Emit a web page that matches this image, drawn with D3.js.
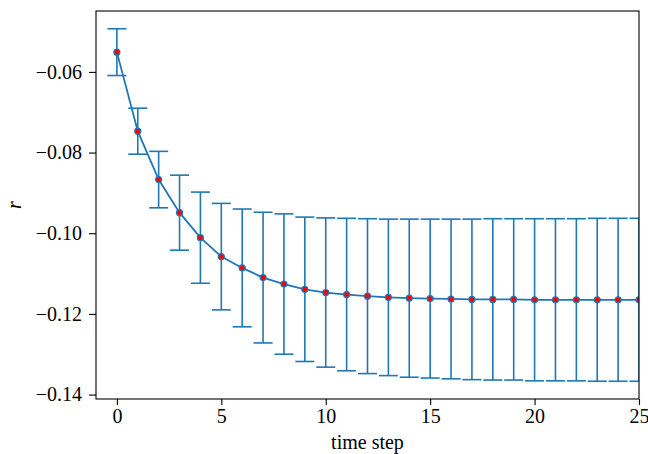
<!DOCTYPE html>
<html>
<head>
<meta charset="utf-8">
<script src="https://cdn.jsdelivr.net/npm/d3@7"></script>
<style>
  body { margin: 0; background: #fff; }
  text { font-family: "Liberation Serif", "DejaVu Serif", serif; }
</style>
</head>
<body>
<div id="chart"></div>
<script>
// time steps and mean r with its error
const steps = d3.range(0, 26);
const meanR = [-0.0551, -0.0747, -0.0867, -0.0949, -0.1011, -0.1058, -0.1086, -0.1110, -0.1126, -0.1139,
  -0.1147, -0.1152, -0.1156, -0.1159, -0.1161, -0.1162, -0.1163, -0.1164, -0.1164, -0.1164,
  -0.1165, -0.1165, -0.1165, -0.1165, -0.1165, -0.1165];
const errR = [0.0058, 0.0057, 0.0070, 0.0093, 0.0113, 0.0132, 0.0146, 0.0162, 0.0174, 0.0179,
  0.0185, 0.0189, 0.0192, 0.0194, 0.0196, 0.0197, 0.0198, 0.0199, 0.0200, 0.0200,
  0.0201, 0.0201, 0.0201, 0.0202, 0.0202, 0.0202];
const xTicks = [0, 5, 10, 15, 20, 25];
const yTicks = [-0.06, -0.08, -0.10, -0.12, -0.14];

const data = steps.map((t, i) => ({ t: t, r: meanR[i], e: errR[i] }));

const width = 648, height = 454;
const margin = { top: 11, right: 9, bottom: 55, left: 96 };
const blue = "#1f77b4";
const fontSize = "20px";

const svg = d3.select("#chart")
  .append("svg")
  .attr("width", width)
  .attr("height", height);

const x = d3.scaleLinear()
  .domain([-1, 25])
  .range([margin.left, width - margin.right]);

const y = d3.scaleLinear()
  .domain([-0.1411, -0.0449])
  .range([height - margin.bottom, margin.top]);

svg.append("clipPath")
  .attr("id", "plotClip")
  .append("rect")
  .attr("x", margin.left)
  .attr("y", margin.top)
  .attr("width", width - margin.left - margin.right)
  .attr("height", height - margin.top - margin.bottom);

const plot = svg.append("g").attr("clip-path", "url(#plotClip)");

// error bars
const cap = 9.5;
const bars = plot.selectAll(".bar")
  .data(data)
  .join("g")
  .attr("class", "bar")
  .attr("stroke", blue)
  .attr("stroke-width", 1.6);

bars.append("line")
  .attr("x1", d => x(d.t)).attr("x2", d => x(d.t))
  .attr("y1", d => y(d.r - d.e)).attr("y2", d => y(d.r + d.e));
bars.append("line")
  .attr("x1", d => x(d.t) - cap).attr("x2", d => x(d.t) + cap)
  .attr("y1", d => y(d.r + d.e)).attr("y2", d => y(d.r + d.e));
bars.append("line")
  .attr("x1", d => x(d.t) - cap).attr("x2", d => x(d.t) + cap)
  .attr("y1", d => y(d.r - d.e)).attr("y2", d => y(d.r - d.e));

// mean line
plot.append("path")
  .datum(data)
  .attr("fill", "none")
  .attr("stroke", blue)
  .attr("stroke-width", 1.8)
  .attr("d", d3.line().x(d => x(d.t)).y(d => y(d.r)));

// markers
plot.selectAll(".dot")
  .data(data)
  .join("circle")
  .attr("class", "dot")
  .attr("cx", d => x(d.t))
  .attr("cy", d => y(d.r))
  .attr("r", 3)
  .attr("fill", "red")
  .attr("stroke", blue)
  .attr("stroke-width", 1.2);

// axes
const fmt = d => (d < 0 ? "\u2212" : "") + Math.abs(d).toFixed(2);

const xAxis = svg.append("g")
  .attr("transform", `translate(0,${height - margin.bottom})`)
  .call(d3.axisBottom(x).tickValues(xTicks).tickSize(6).tickPadding(4));

const yAxis = svg.append("g")
  .attr("transform", `translate(${margin.left},0)`)
  .call(d3.axisLeft(y).tickValues(yTicks).tickFormat(fmt).tickSize(7).tickPadding(7));

[xAxis, yAxis].forEach(a => {
  a.select(".domain").remove();
  a.selectAll(".tick line").attr("stroke", "#000").attr("stroke-width", 1.1);
  a.selectAll(".tick text")
    .attr("fill", "#000")
    .style("font-size", fontSize)
    .style("font-family", "'Liberation Serif', serif");
});

// frame
svg.append("rect")
  .attr("x", margin.left)
  .attr("y", margin.top)
  .attr("width", width - margin.left - margin.right)
  .attr("height", height - margin.top - margin.bottom)
  .attr("fill", "none")
  .attr("stroke", "#000")
  .attr("stroke-width", 1.1);

svg.append("text")
  .attr("x", (margin.left + width - margin.right) / 2)
  .attr("y", 449)
  .attr("text-anchor", "middle")
  .style("font-size", fontSize)
  .text("time step");

svg.append("text")
  .attr("transform", `translate(21,${(margin.top + height - margin.bottom) / 2}) rotate(-90)`)
  .attr("text-anchor", "middle")
  .style("font-size", fontSize)
  .style("font-style", "italic")
  .text("r");
</script>
</body>
</html>
